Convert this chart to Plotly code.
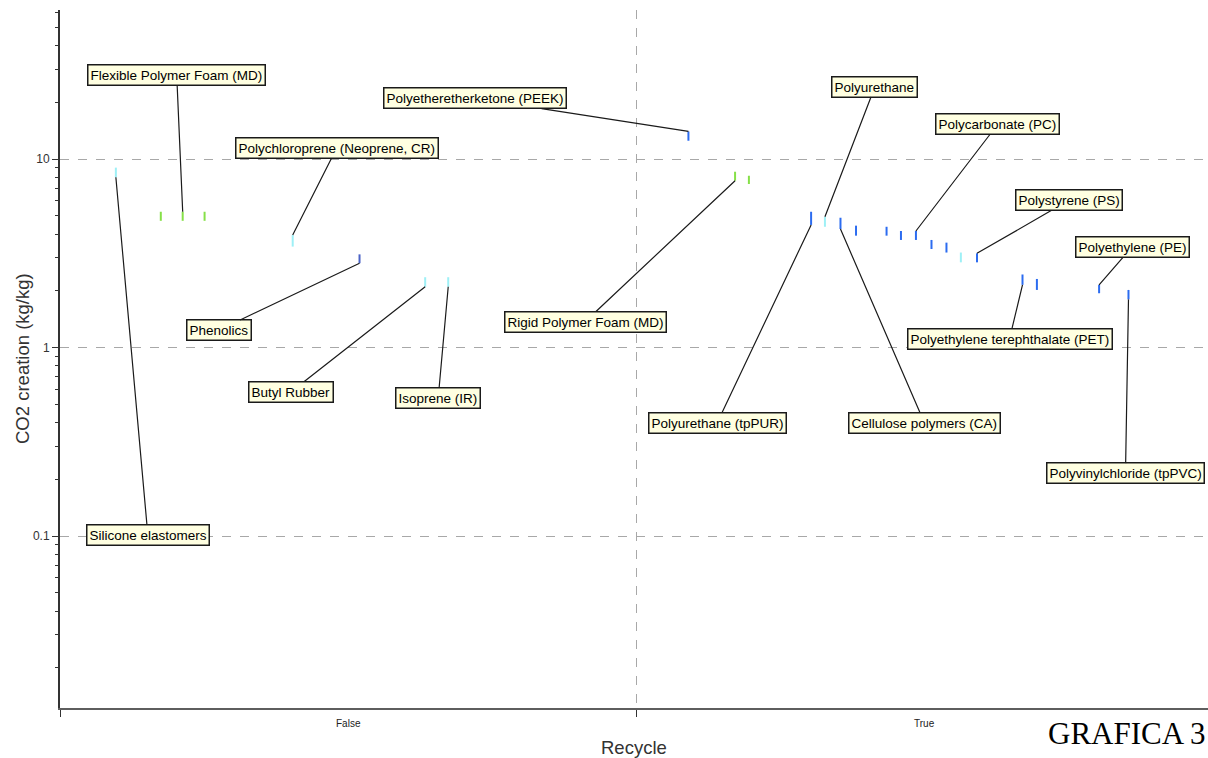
import math
import plotly.graph_objects as go

# ---- data -----------------------------------------------------------------
materials = [
    "Silicone elastomers",
    "Flexible Polymer Foam (LD)",
    "Flexible Polymer Foam (MD)",
    "Flexible Polymer Foam (VLD)",
    "Polychloroprene (Neoprene, CR)",
    "Phenolics",
    "Butyl Rubber",
    "Isoprene (IR)",
    "Polyetheretherketone (PEEK)",
    "Rigid Polymer Foam (MD)",
    "Rigid Polymer Foam (LD)",
    "Polyurethane (tpPUR)",
    "Polyurethane",
    "Cellulose polymers (CA)",
    "Material 13",
    "Material 14",
    "Material 15",
    "Polycarbonate (PC)",
    "Material 17",
    "Material 18",
    "Material 19",
    "Polystyrene (PS)",
    "Polyethylene terephthalate (PET)",
    "Material 22",
    "Polyethylene (PE)",
    "Polyvinylchloride (tpPVC)",
]
recycle = [False] * 8 + [True] * 18
# position of each material inside its Recycle band (0..1)
band_pos = [0.097, 0.175, 0.213, 0.251, 0.404, 0.520, 0.634, 0.674,
            0.091, 0.172, 0.196, 0.304, 0.328, 0.355, 0.382, 0.435,
            0.460, 0.486, 0.513, 0.539, 0.564, 0.592, 0.671, 0.696,
            0.804, 0.855]
co2_low = [8.0, 4.7, 4.7, 4.7, 3.43, 2.80, 2.10, 2.10,
           12.5, 7.67, 7.37, 4.47, 4.37, 4.25, 3.92, 3.92,
           3.72, 3.72, 3.33, 3.19, 2.83, 2.83, 2.15, 2.02,
           1.94, 1.80]
co2_high = [9.0, 5.25, 5.25, 5.25, 3.95, 3.12, 2.36, 2.36,
            14.0, 8.56, 8.15, 5.25, 4.94, 4.88, 4.43, 4.37,
            4.15, 4.15, 3.72, 3.60, 3.19, 3.16, 2.44, 2.31,
            2.15, 2.02]
family = ["elastomer", "foam", "foam", "foam", "elastomer", "thermoset",
          "elastomer", "elastomer",
          "thermoplastic", "foam", "foam", "thermoplastic", "elastomer",
          "thermoplastic", "thermoplastic", "thermoplastic", "thermoplastic",
          "thermoplastic", "thermoplastic", "thermoplastic", "elastomer",
          "thermoplastic", "thermoplastic", "thermoplastic", "thermoplastic",
          "thermoplastic"]
category_labels = ["False", "True"]

# ---- styling ---------------------------------------------------------------
family_color = {
    "elastomer": "#9ef0f6",
    "foam": "#86e048",
    "thermoset": "#4a62c6",
    "thermoplastic": "#2c6cf0",
}
FONT = "Liberation Sans, Arial, sans-serif"

# labelled materials: which end of the bar the leader attaches to, and the
# pixel offset of the label box centre from that end
labels = [
    ("Silicone elastomers", "low", 32, 358),
    ("Flexible Polymer Foam (MD)", "high", -6, -137),
    ("Polychloroprene (Neoprene, CR)", "high", 44, -87),
    ("Phenolics", "low", -141, 67),
    ("Butyl Rubber", "low", -134, 105),
    ("Isoprene (IR)", "low", -10, 111),
    ("Polyetheretherketone (PEEK)", "high", -213, -33),
    ("Rigid Polymer Foam (MD)", "low", -150, 141),
    ("Polyurethane (tpPUR)", "low", -94, 198),
    ("Polyurethane", "high", 50, -130),
    ("Cellulose polymers (CA)", "low", 84, 194),
    ("Polycarbonate (PC)", "high", 82, -107),
    ("Polystyrene (PS)", "high", 92, -53),
    ("Polyethylene terephthalate (PET)", "low", -13, 54),
    ("Polyethylene (PE)", "high", 33, -38),
    ("Polyvinylchloride (tpPVC)", "low", -3, 174),
]

x_val = [(1 if r else 0) + p for r, p in zip(recycle, band_pos)]

fig = go.Figure()

# range bars, one trace per colour group
for fam, col in family_color.items():
    xs, ys, names = [], [], []
    for i, f in enumerate(family):
        if f != fam:
            continue
        xs += [x_val[i], x_val[i], None]
        ys += [co2_low[i], co2_high[i], None]
        names += [materials[i]] * 3
    fig.add_trace(go.Scatter(
        x=xs, y=ys, mode="lines", line=dict(color=col, width=2),
        text=names, hoverinfo="text", showlegend=False,
    ))

# label boxes with leader lines
annotations = []
for name, end, ax, ay in labels:
    i = materials.index(name)
    yv = co2_low[i] if end == "low" else co2_high[i]
    annotations.append(dict(
        x=x_val[i], y=math.log10(yv), xref="x", yref="y",
        text=name, showarrow=True, arrowhead=0, arrowwidth=1.2,
        arrowcolor="#1a1a1a", ax=ax, ay=ay, standoff=0,
        bgcolor="#ffffe1", bordercolor="#1a1a1a", borderwidth=1.5,
        borderpad=2, font=dict(family=FONT, size=13.5, color="#000000"),
    ))

# category names under the axis
for k, lab in enumerate(category_labels):
    annotations.append(dict(
        x=k + 0.5, y=0, xref="x", yref="paper", yanchor="top",
        yshift=-8, text=lab, showarrow=False,
        font=dict(family=FONT, size=10, color="#222222"),
    ))

# axis titles
annotations.append(dict(
    x=634, y=745, xref="paper", yref="paper", text="Recycle",
    showarrow=False, font=dict(family=FONT, size=18.5, color="#333333"),
))
annotations.append(dict(
    x=-38 / 1148, y=0.5, xref="paper", yref="paper", xanchor="center",
    yanchor="middle", text="CO2 creation (kg/kg)", textangle=-90,
    showarrow=False, font=dict(family=FONT, size=18.5, color="#333333"),
))
annotations.append(dict(
    x=1.0, y=0, xref="paper", yref="paper", xanchor="right", yanchor="top",
    yshift=-6, text="GRAFICA 3", showarrow=False,
    font=dict(family="Liberation Serif, Times New Roman, serif", size=31,
              color="#000000"),
))

# fix the "Recycle" title position in pixels relative to the plot area
annotations[-3].update(x=(634 - 60) / 1148, y=0, yanchor="top", yshift=-27)

minor_ticks = [m * 10 ** e for e in range(-2, 2) for m in range(2, 10)
               if 0.0122 < m * 10 ** e < 61]

fig.update_layout(
    width=1208, height=758,
    margin=dict(l=60, r=0, t=10, b=50),
    paper_bgcolor="white", plot_bgcolor="white",
    font=dict(family=FONT, color="#333333"),
    annotations=annotations,
    xaxis=dict(
        range=[0, 1148 / 576], tickvals=[0, 1, 2], ticktext=["", "", ""],
        ticks="outside", ticklen=7, tickwidth=1, tickcolor="#333333",
        showline=True, linecolor="#5e5e5e", linewidth=2,
        showgrid=True, gridcolor="#a8a8a8", griddash="dash", gridwidth=1,
        zeroline=False, fixedrange=True,
    ),
    yaxis=dict(
        type="log", range=[-1.9125, 1.7905],
        tickvals=[0.1, 1, 10], ticktext=["0.1", "1", "10"],
        ticks="outside", ticklen=6, tickwidth=1, tickcolor="#333333",
        tickfont=dict(family=FONT, size=12, color="#333333"),
        showline=True, linecolor="#333333", linewidth=2,
        showgrid=True, gridcolor="#a8a8a8", griddash="dash", gridwidth=1,
        zeroline=False,
        minor=dict(tickvals=minor_ticks, ticks="outside", ticklen=3,
                   tickcolor="#333333", showgrid=False),
    ),
)

fig.write_html("out.html")
